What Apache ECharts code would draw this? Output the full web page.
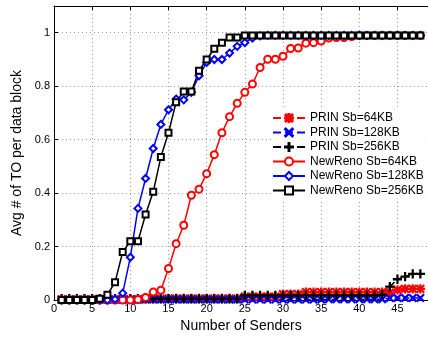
<!DOCTYPE html>
<html>
<head>
<meta charset="utf-8">
<script src="https://cdn.jsdelivr.net/npm/echarts@6/dist/echarts.min.js"></script>
<style>html,body{margin:0;padding:0;background:#fff}#c{width:428px;height:338px}</style>
</head>
<body>
<div id="c"></div>
<script>
var senders = [1,2,3,4,5,6,7,8,9,10,11,12,13,14,15,16,17,18,19,20,21,22,23,24,25,26,27,28,29,30,31,32,33,34,35,36,37,38,39,40,41,42,43,44,45,46,47,48];
var prin64 = [0.003,0.003,0.003,0.003,0.003,0.003,0.003,0.003,0.003,0.003,0.003,0.006,0.006,0.006,0.006,0.006,0.006,0.006,0.006,0.006,0.006,0.006,0.006,0.006,0.013,0.013,0.013,0.013,0.013,0.022,0.022,0.022,0.03,0.03,0.03,0.03,0.03,0.03,0.03,0.03,0.03,0.03,0.03,0.028,0.038,0.042,0.042,0.042];
var prin128 = [0.002,0.002,0.002,0.002,0.002,0.002,0.002,0.002,0.002,0.002,0.002,0.002,0.002,0.002,0.002,0.002,0.002,0.002,0.002,0.002,0.002,0.002,0.002,0.002,0.002,0.002,0.002,0.002,0.002,0.002,0.002,0.002,0.002,0.002,0.002,0.003,0.003,0.003,0.003,0.003,0.003,0.003,0.003,0.008,0.008,0.008,0.008,0.008];
var prin256 = [0.005,0.005,0.005,0.005,0.005,0.005,0.005,0.005,0.005,0.005,0.005,0.005,0.005,0.005,0.005,0.005,0.005,0.005,0.005,0.005,0.005,0.005,0.005,0.005,0.018,0.018,0.018,0.018,0.018,0.018,0.018,0.018,0.018,0.018,0.018,0.018,0.018,0.018,0.018,0.018,0.018,0.018,0.02,0.05,0.078,0.088,0.098,0.098];
var newreno64 = [0,0,0,0,0,0,0,0,0,0,0.002,0.01,0.03,0.037,0.118,0.211,0.28,0.392,0.415,0.473,0.544,0.626,0.686,0.736,0.777,0.808,0.87,0.901,0.901,0.912,0.941,0.943,0.961,0.963,0.969,0.98,0.982,0.982,0.986,0.99,0.99,0.99,0.99,0.99,0.99,0.99,0.99,0.99];
var newreno128 = [0,0,0,0,0,0,0,0.003,0.026,0.16,0.343,0.455,0.567,0.657,0.712,0.752,0.749,0.777,0.839,0.889,0.9,0.9,0.924,0.949,0.963,0.98,0.988,0.99,0.99,0.99,0.99,0.99,0.99,0.99,0.99,0.99,0.99,0.99,0.99,0.99,0.99,0.99,0.99,0.99,0.99,0.99,0.99,0.99];
var newreno256 = [0,0,0,0,0,0.005,0.02,0.067,0.18,0.22,0.22,0.32,0.405,0.535,0.626,0.74,0.78,0.78,0.858,0.9,0.94,0.963,0.982,0.982,0.99,0.99,0.99,0.99,0.99,0.99,0.99,0.99,0.99,0.99,0.99,0.99,0.99,0.99,0.99,0.99,0.99,0.99,0.99,0.99,0.99,0.99,0.99,0.99];
var seriesNames = ['PRIN Sb=64KB','PRIN Sb=128KB','PRIN Sb=256KB','NewReno Sb=64KB','NewReno Sb=128KB','NewReno Sb=256KB'];
var xTicks = {min:0, max:49, interval:5};
var yTicks = {min:0, max:1.1, interval:0.2};

function pairs(xs, ys){ return xs.map(function(x,i){ return [x, ys[i]]; }); }

var symPlus = 'path://M4.4,0H5.6V10H4.4Z M0,4.4H10V5.6H0Z';
var symX = 'path://M0,0.9L0.9,0L5,4.1L9.1,0L10,0.9L5.9,5L10,9.1L9.1,10L5,5.9L0.9,10L0,9.1L4.1,5Z';
var symStar = 'path://M4.45,0H5.55V10H4.45Z M0,4.45H10V5.55H0Z M1.2,0.4L5,4.2L8.8,0.4L9.6,1.2L5.8,5L9.6,8.8L8.8,9.6L5,5.8L1.2,9.6L0.4,8.8L4.2,5L0.4,1.2Z';

var FONT = 'Liberation Sans, Arial, Helvetica, sans-serif';
function mk(name, data, color, dashed, symbol, size){
  return {
    name: name, type: 'line', data: pairs(senders, data),
    symbol: symbol, symbolSize: size,
    lineStyle: {color: color, width: 1.5, type: dashed ? 'dashed' : 'solid'},
    itemStyle: {color: color, borderColor: color, borderWidth: 1.3},
    emphasis: {disabled: true}
  };
}

var chart = echarts.init(document.getElementById('c'), null, {renderer: 'canvas'});
chart.setOption({
  animation: false,
  backgroundColor: '#fff',
  textStyle: {fontFamily: FONT},
  grid: {left: 54, right: 0, top: 6, bottom: 36, containLabel: false},
  legend: {
    orient: 'vertical', left: 271, top: 110,
    itemWidth: 32, itemHeight: 10, itemGap: 0.5,
    padding: [1, 3, 1, 1],
    backgroundColor: '#fff',
    textStyle: {fontSize: 12, lineHeight: 14, color: '#000', fontFamily: FONT},
    data: seriesNames
  },
  xAxis: [{
    type: 'value', min: xTicks.min, max: xTicks.max, interval: xTicks.interval,
    name: 'Number of Senders', nameLocation: 'middle', nameGap: 17,
    nameTextStyle: {fontSize: 14, color: '#000', fontFamily: FONT},
    axisLine: {show: true, lineStyle: {color: '#000', width: 1}},
    axisTick: {show: true, inside: true, length: 4, lineStyle: {color: '#000'}},
    axisLabel: {fontSize: 11, color: '#000', margin: 3, showMaxLabel: false, fontFamily: FONT},
    splitLine: {show: true, lineStyle: {color: '#999', type: [1, 3], width: 1}}
  }, {
    type: 'value', position: 'top', min: xTicks.min, max: xTicks.max, interval: xTicks.interval,
    axisLine: {show: true, lineStyle: {color: '#000', width: 1}},
    axisTick: {show: true, inside: true, length: 4, lineStyle: {color: '#000'}},
    axisLabel: {show: false}, splitLine: {show: false}
  }],
  yAxis: {
    type: 'value', min: yTicks.min, max: yTicks.max, interval: yTicks.interval,
    name: 'Avg # of TO per data block', nameLocation: 'middle', nameGap: 20,
    nameTextStyle: {fontSize: 14, color: '#000', fontFamily: FONT},
    axisLine: {show: true, lineStyle: {color: '#000', width: 1}},
    axisTick: {show: true, inside: true, length: 4, lineStyle: {color: '#000'}},
    axisLabel: {fontSize: 11, color: '#000', margin: 4, showMaxLabel: false, fontFamily: FONT},
    splitLine: {show: true, lineStyle: {color: '#999', type: [1, 3], width: 1}}
  },
  series: [
    mk(seriesNames[0], prin64, '#ff0000', true, symStar, 8),
    mk(seriesNames[1], prin128, '#0000ff', true, symX, 7),
    mk(seriesNames[2], prin256, '#000000', true, symPlus, 8),
    mk(seriesNames[3], newreno64, '#ff0000', false, 'emptyCircle', 7),
    mk(seriesNames[4], newreno128, '#0000ff', false, 'emptyDiamond', 7),
    mk(seriesNames[5], newreno256, '#000000', false, 'emptyRect', 6)
  ]
});
</script>
</body>
</html>
